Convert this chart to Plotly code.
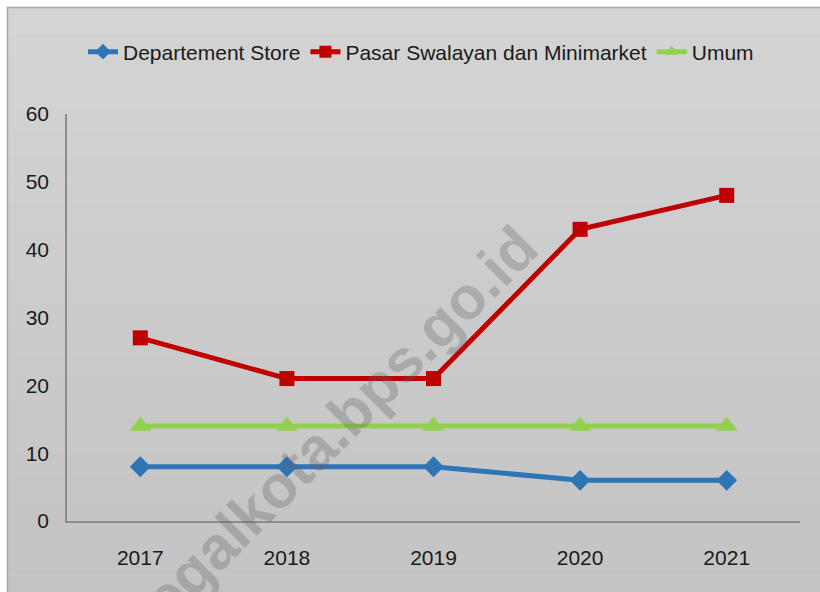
import plotly.graph_objects as go

years = ["2017", "2018", "2019", "2020", "2021"]
dept_store = [8, 8, 8, 6, 6]
pasar_swalayan = [27, 21, 21, 43, 48]
umum = [14, 14, 14, 14, 14]
y_ticks = [0, 10, 20, 30, 40, 50, 60]

W, H = 820, 592
ML, MT = 67, 114
MR = W - 800
MB = H - 521
PW, PH = W - ML - MR, H - MT - MB

def px_x(x):
    return (x - ML) / PW

def px_y(y):
    return (H - MB - y) / PH

FONT = "Liberation Sans, Arial, sans-serif"

fig = go.Figure()
fig.add_trace(go.Scatter(
    x=years, y=dept_store, name="Departement Store", mode="lines+markers",
    line=dict(color="#2E75B6", width=5),
    marker=dict(symbol="diamond", size=16, color="#2E75B6"),
))
fig.add_trace(go.Scatter(
    x=years, y=pasar_swalayan, name="Pasar Swalayan dan Minimarket", mode="lines+markers",
    line=dict(color="#C00000", width=5),
    marker=dict(symbol="square", size=15, color="#C00000"),
))
fig.add_trace(go.Scatter(
    x=years, y=umum, name="Umum", mode="lines+markers",
    line=dict(color="#92D050", width=5),
    marker=dict(symbol="triangle-up", size=19, color="#92D050"),
))

# background frame with soft vertical gradient
shapes = []
top_px, bot_px = 7.5, 600
n = 24
c_top, c_bot = 212, 195
for i in range(n):
    y0p = top_px + (bot_px - top_px) * i / n
    y1p = top_px + (bot_px - top_px) * (i + 1) / n
    c = round(c_top + (c_bot - c_top) * (i + 0.5) / n)
    shapes.append(dict(
        type="rect", xref="paper", yref="paper", layer="below",
        x0=px_x(7.5), x1=px_x(830), y0=px_y(y1p + 0.5), y1=px_y(y0p),
        fillcolor=f"rgb({c},{c},{c})", line=dict(width=0),
    ))
shapes.append(dict(
    type="rect", xref="paper", yref="paper", layer="below",
    x0=px_x(7.5), x1=px_x(830), y0=px_y(bot_px), y1=px_y(7.5),
    fillcolor="rgba(0,0,0,0)", line=dict(color="#a6a6a6", width=1.5),
))

fig.update_layout(
    width=W, height=H,
    margin=dict(l=ML, r=MR, t=MT, b=MB, pad=0, autoexpand=False),
    paper_bgcolor="white",
    plot_bgcolor="rgba(0,0,0,0)",
    showlegend=True,
    legend=dict(
        orientation="h", x=px_x(421), xanchor="center", y=px_y(52), yanchor="middle",
        font=dict(family=FONT, size=21, color="#1a1a1a"),
        bgcolor="rgba(0,0,0,0)", itemsizing="constant", tracegroupgap=0,
    ),
    xaxis=dict(
        type="category", range=[-0.5, 4.5], showgrid=False, zeroline=False,
        showline=True, linecolor="#8c8c8c", linewidth=1.5, ticks="",
        tickfont=dict(family=FONT, size=21, color="#1a1a1a"),
        ticklabelstandoff=17,
    ),
    yaxis=dict(
        range=[0, 60], tickvals=y_ticks, showgrid=False, zeroline=False,
        showline=True, linecolor="#8c8c8c", linewidth=1.5, ticks="",
        tickfont=dict(family=FONT, size=21, color="#1a1a1a"),
        ticklabelstandoff=12,
    ),
    shapes=shapes,
    annotations=[dict(
        text="tegalkota.bps.go.id", xref="paper", yref="paper",
        x=px_x(333), y=px_y(430), xanchor="center", yanchor="middle",
        textangle=-45, showarrow=False,
        font=dict(family="Liberation Sans, Arial, sans-serif", size=60,
                  color="rgba(95,95,95,0.30)", weight="bold"),
    )],
)

fig.write_html(
    "out.html",
    config={"displayModeBar": False},
    post_script="document.body.style.margin='0';document.body.style.overflow='hidden';",
)
